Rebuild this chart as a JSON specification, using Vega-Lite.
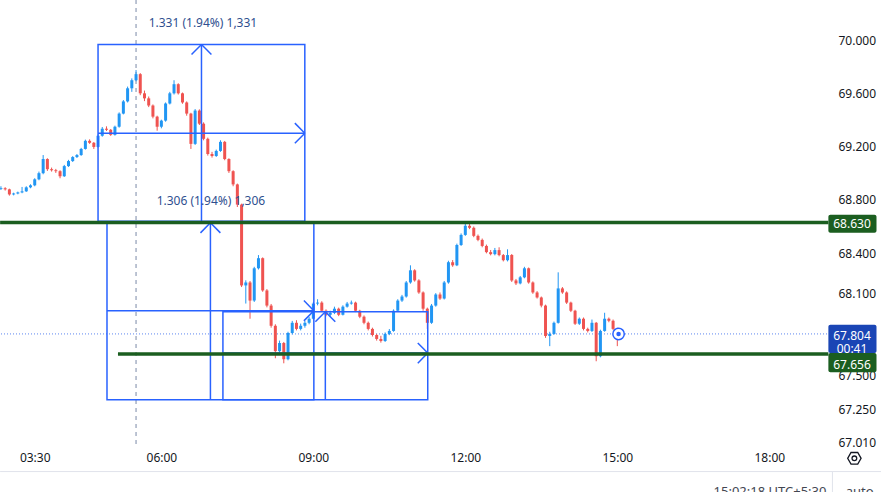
{
  "$schema": "https://vega.github.io/schema/vega-lite/v6.json",
  "width": 830,
  "height": 445,
  "padding": {"left": 0, "top": 0, "right": 51, "bottom": 47},
  "autosize": {"type": "none"},
  "background": "#ffffff",
  "config": {"font": "Noto Sans", "view": {"stroke": null}},
  "datasets": {
    "candles": [
      {"t":170,"o":68.880,"h":68.900,"l":68.872,"c":68.885},
      {"t":175,"o":68.885,"h":68.893,"l":68.868,"c":68.877},
      {"t":180,"o":68.877,"h":68.882,"l":68.830,"c":68.839},
      {"t":185,"o":68.839,"h":68.852,"l":68.832,"c":68.846},
      {"t":190,"o":68.846,"h":68.860,"l":68.840,"c":68.854},
      {"t":195,"o":68.854,"h":68.895,"l":68.848,"c":68.862},
      {"t":200,"o":68.862,"h":68.900,"l":68.858,"c":68.892},
      {"t":205,"o":68.892,"h":68.915,"l":68.885,"c":68.907},
      {"t":210,"o":68.907,"h":68.960,"l":68.900,"c":68.952},
      {"t":215,"o":68.952,"h":69.010,"l":68.945,"c":68.998},
      {"t":220,"o":68.998,"h":69.134,"l":68.990,"c":69.104},
      {"t":225,"o":69.104,"h":69.110,"l":69.015,"c":69.028},
      {"t":230,"o":69.028,"h":69.040,"l":69.010,"c":69.020},
      {"t":235,"o":69.020,"h":69.030,"l":69.000,"c":69.013},
      {"t":240,"o":69.013,"h":69.020,"l":68.960,"c":68.975},
      {"t":245,"o":68.975,"h":69.060,"l":68.970,"c":69.051},
      {"t":250,"o":69.051,"h":69.098,"l":69.045,"c":69.089},
      {"t":255,"o":69.089,"h":69.126,"l":69.082,"c":69.119},
      {"t":260,"o":69.119,"h":69.142,"l":69.112,"c":69.134},
      {"t":265,"o":69.134,"h":69.188,"l":69.128,"c":69.180},
      {"t":270,"o":69.180,"h":69.250,"l":69.175,"c":69.241},
      {"t":275,"o":69.241,"h":69.252,"l":69.218,"c":69.226},
      {"t":280,"o":69.226,"h":69.232,"l":69.180,"c":69.195},
      {"t":285,"o":69.195,"h":69.290,"l":69.190,"c":69.279},
      {"t":290,"o":69.279,"h":69.345,"l":69.272,"c":69.332},
      {"t":295,"o":69.332,"h":69.350,"l":69.315,"c":69.324},
      {"t":300,"o":69.324,"h":69.330,"l":69.278,"c":69.286},
      {"t":305,"o":69.286,"h":69.355,"l":69.280,"c":69.347},
      {"t":310,"o":69.347,"h":69.455,"l":69.340,"c":69.446},
      {"t":315,"o":69.446,"h":69.548,"l":69.440,"c":69.538},
      {"t":320,"o":69.538,"h":69.650,"l":69.530,"c":69.637},
      {"t":325,"o":69.637,"h":69.712,"l":69.610,"c":69.698},
      {"t":330,"o":69.698,"h":69.775,"l":69.690,"c":69.744},
      {"t":335,"o":69.744,"h":69.752,"l":69.585,"c":69.599},
      {"t":340,"o":69.599,"h":69.620,"l":69.540,"c":69.561},
      {"t":345,"o":69.561,"h":69.575,"l":69.495,"c":69.507},
      {"t":350,"o":69.507,"h":69.515,"l":69.410,"c":69.423},
      {"t":355,"o":69.423,"h":69.430,"l":69.317,"c":69.347},
      {"t":360,"o":69.347,"h":69.400,"l":69.335,"c":69.393},
      {"t":365,"o":69.393,"h":69.530,"l":69.385,"c":69.522},
      {"t":370,"o":69.522,"h":69.610,"l":69.515,"c":69.599},
      {"t":375,"o":69.599,"h":69.698,"l":69.590,"c":69.668},
      {"t":380,"o":69.668,"h":69.675,"l":69.590,"c":69.599},
      {"t":385,"o":69.599,"h":69.605,"l":69.520,"c":69.530},
      {"t":390,"o":69.530,"h":69.538,"l":69.430,"c":69.446},
      {"t":395,"o":69.446,"h":69.452,"l":69.180,"c":69.218},
      {"t":400,"o":69.218,"h":69.480,"l":69.210,"c":69.469},
      {"t":405,"o":69.469,"h":69.478,"l":69.360,"c":69.370},
      {"t":410,"o":69.370,"h":69.380,"l":69.245,"c":69.256},
      {"t":415,"o":69.256,"h":69.265,"l":69.130,"c":69.142},
      {"t":420,"o":69.142,"h":69.158,"l":69.115,"c":69.127},
      {"t":425,"o":69.127,"h":69.175,"l":69.120,"c":69.165},
      {"t":430,"o":69.165,"h":69.245,"l":69.158,"c":69.233},
      {"t":435,"o":69.233,"h":69.240,"l":69.095,"c":69.104},
      {"t":440,"o":69.104,"h":69.110,"l":69.000,"c":69.013},
      {"t":445,"o":69.013,"h":69.020,"l":68.900,"c":68.914},
      {"t":450,"o":68.914,"h":68.920,"l":68.745,"c":68.763},
      {"t":455,"o":68.763,"h":68.770,"l":68.150,"c":68.162},
      {"t":460,"o":68.162,"h":68.200,"l":68.028,"c":68.184},
      {"t":465,"o":68.184,"h":68.195,"l":67.916,"c":68.050},
      {"t":470,"o":68.050,"h":68.300,"l":68.040,"c":68.289},
      {"t":475,"o":68.289,"h":68.387,"l":68.280,"c":68.364},
      {"t":480,"o":68.364,"h":68.370,"l":68.115,"c":68.125},
      {"t":485,"o":68.125,"h":68.135,"l":68.000,"c":68.013},
      {"t":490,"o":68.013,"h":68.025,"l":67.850,"c":67.864},
      {"t":495,"o":67.864,"h":67.875,"l":67.625,"c":67.677},
      {"t":500,"o":67.677,"h":67.755,"l":67.665,"c":67.737},
      {"t":505,"o":67.737,"h":67.745,"l":67.588,"c":67.618},
      {"t":510,"o":67.618,"h":67.820,"l":67.610,"c":67.811},
      {"t":515,"o":67.811,"h":67.900,"l":67.800,"c":67.886},
      {"t":520,"o":67.886,"h":67.905,"l":67.830,"c":67.841},
      {"t":525,"o":67.841,"h":67.880,"l":67.830,"c":67.864},
      {"t":530,"o":67.864,"h":67.900,"l":67.850,"c":67.886},
      {"t":535,"o":67.886,"h":67.930,"l":67.875,"c":67.916},
      {"t":540,"o":67.916,"h":68.040,"l":67.910,"c":68.028},
      {"t":545,"o":68.028,"h":68.060,"l":68.015,"c":68.035},
      {"t":550,"o":68.035,"h":68.045,"l":67.965,"c":67.975},
      {"t":555,"o":67.975,"h":67.985,"l":67.935,"c":67.945},
      {"t":560,"o":67.945,"h":67.975,"l":67.930,"c":67.960},
      {"t":565,"o":67.960,"h":68.005,"l":67.950,"c":67.990},
      {"t":570,"o":67.990,"h":67.998,"l":67.935,"c":67.945},
      {"t":575,"o":67.945,"h":68.015,"l":67.940,"c":68.005},
      {"t":580,"o":68.005,"h":68.040,"l":67.998,"c":68.028},
      {"t":585,"o":68.028,"h":68.050,"l":68.020,"c":68.035},
      {"t":590,"o":68.035,"h":68.042,"l":67.965,"c":67.975},
      {"t":595,"o":67.975,"h":67.982,"l":67.920,"c":67.931},
      {"t":600,"o":67.931,"h":67.940,"l":67.875,"c":67.886},
      {"t":605,"o":67.886,"h":67.895,"l":67.830,"c":67.841},
      {"t":610,"o":67.841,"h":67.850,"l":67.785,"c":67.796},
      {"t":615,"o":67.796,"h":67.805,"l":67.755,"c":67.767},
      {"t":620,"o":67.767,"h":67.790,"l":67.740,"c":67.752},
      {"t":625,"o":67.752,"h":67.815,"l":67.745,"c":67.804},
      {"t":630,"o":67.804,"h":67.840,"l":67.795,"c":67.826},
      {"t":635,"o":67.826,"h":67.985,"l":67.820,"c":67.975},
      {"t":640,"o":67.975,"h":68.060,"l":67.968,"c":68.050},
      {"t":645,"o":68.050,"h":68.092,"l":68.040,"c":68.080},
      {"t":650,"o":68.080,"h":68.195,"l":68.072,"c":68.184},
      {"t":655,"o":68.184,"h":68.311,"l":68.175,"c":68.274},
      {"t":660,"o":68.274,"h":68.282,"l":68.190,"c":68.199},
      {"t":665,"o":68.199,"h":68.208,"l":68.100,"c":68.110},
      {"t":670,"o":68.110,"h":68.118,"l":67.975,"c":67.990},
      {"t":675,"o":67.990,"h":67.998,"l":67.841,"c":67.886},
      {"t":680,"o":67.886,"h":68.025,"l":67.878,"c":68.013},
      {"t":685,"o":68.013,"h":68.105,"l":68.005,"c":68.095},
      {"t":690,"o":68.095,"h":68.110,"l":68.055,"c":68.065},
      {"t":695,"o":68.065,"h":68.195,"l":68.058,"c":68.184},
      {"t":700,"o":68.184,"h":68.345,"l":68.175,"c":68.334},
      {"t":705,"o":68.334,"h":68.350,"l":68.300,"c":68.311},
      {"t":710,"o":68.311,"h":68.472,"l":68.305,"c":68.462},
      {"t":715,"o":68.462,"h":68.548,"l":68.455,"c":68.537},
      {"t":720,"o":68.537,"h":68.630,"l":68.530,"c":68.605},
      {"t":725,"o":68.605,"h":68.628,"l":68.580,"c":68.590},
      {"t":730,"o":68.590,"h":68.600,"l":68.520,"c":68.530},
      {"t":735,"o":68.530,"h":68.540,"l":68.490,"c":68.500},
      {"t":740,"o":68.500,"h":68.510,"l":68.445,"c":68.455},
      {"t":745,"o":68.455,"h":68.465,"l":68.400,"c":68.409},
      {"t":750,"o":68.409,"h":68.425,"l":68.385,"c":68.394},
      {"t":755,"o":68.394,"h":68.440,"l":68.385,"c":68.424},
      {"t":760,"o":68.424,"h":68.445,"l":68.378,"c":68.387},
      {"t":765,"o":68.387,"h":68.395,"l":68.340,"c":68.349},
      {"t":770,"o":68.349,"h":68.430,"l":68.340,"c":68.387},
      {"t":775,"o":68.387,"h":68.395,"l":68.188,"c":68.199},
      {"t":780,"o":68.199,"h":68.210,"l":68.165,"c":68.177},
      {"t":785,"o":68.177,"h":68.232,"l":68.170,"c":68.222},
      {"t":790,"o":68.222,"h":68.300,"l":68.215,"c":68.289},
      {"t":795,"o":68.289,"h":68.295,"l":68.175,"c":68.184},
      {"t":800,"o":68.184,"h":68.192,"l":68.100,"c":68.110},
      {"t":805,"o":68.110,"h":68.120,"l":68.065,"c":68.073},
      {"t":810,"o":68.073,"h":68.080,"l":68.000,"c":68.013},
      {"t":815,"o":68.013,"h":68.020,"l":67.775,"c":67.789},
      {"t":820,"o":67.789,"h":67.820,"l":67.714,"c":67.804},
      {"t":825,"o":67.804,"h":67.895,"l":67.798,"c":67.886},
      {"t":830,"o":67.886,"h":68.259,"l":67.880,"c":68.140},
      {"t":835,"o":68.140,"h":68.150,"l":68.100,"c":68.110},
      {"t":840,"o":68.110,"h":68.118,"l":68.025,"c":68.035},
      {"t":845,"o":68.035,"h":68.042,"l":67.965,"c":67.975},
      {"t":850,"o":67.975,"h":67.982,"l":67.870,"c":67.879},
      {"t":855,"o":67.879,"h":67.925,"l":67.870,"c":67.916},
      {"t":860,"o":67.916,"h":67.925,"l":67.830,"c":67.841},
      {"t":865,"o":67.841,"h":67.850,"l":67.815,"c":67.826},
      {"t":870,"o":67.826,"h":67.910,"l":67.818,"c":67.886},
      {"t":875,"o":67.886,"h":67.892,"l":67.603,"c":67.640},
      {"t":880,"o":67.640,"h":67.835,"l":67.632,"c":67.826},
      {"t":885,"o":67.826,"h":67.960,"l":67.820,"c":67.916},
      {"t":890,"o":67.916,"h":67.925,"l":67.890,"c":67.901},
      {"t":895,"o":67.901,"h":67.910,"l":67.832,"c":67.841},
      {"t":900,"o":67.841,"h":67.850,"l":67.714,"c":67.804}
    ],
    "boxes": [
      {"x1":285.0,"x2":529.9,"lo":68.638,"hi":69.969},
      {"x1":295.6,"x2":540.6,"lo":67.321,"hi":68.627},
      {"x1":432.9,"x2":675.5,"lo":67.321,"hi":67.968}
    ],
    "segs": [
      {"x1":407.5,"y1":68.638,"x2":407.5,"y2":69.969},
      {"x1":395.7,"y1":69.893,"x2":407.5,"y2":69.969},
      {"x1":419.3,"y1":69.893,"x2":407.5,"y2":69.969},
      {"x1":285.0,"y1":69.298,"x2":529.9,"y2":69.298},
      {"x1":518.1,"y1":69.374,"x2":529.9,"y2":69.298},
      {"x1":518.1,"y1":69.222,"x2":529.9,"y2":69.298},
      {"x1":418.1,"y1":67.321,"x2":418.1,"y2":68.627},
      {"x1":406.3,"y1":68.552,"x2":418.1,"y2":68.627},
      {"x1":429.9,"y1":68.552,"x2":418.1,"y2":68.627},
      {"x1":295.6,"y1":67.975,"x2":540.6,"y2":67.975},
      {"x1":528.8,"y1":68.050,"x2":540.6,"y2":67.975},
      {"x1":528.8,"y1":67.900,"x2":540.6,"y2":67.975},
      {"x1":554.2,"y1":67.321,"x2":554.2,"y2":67.968},
      {"x1":542.4,"y1":67.893,"x2":554.2,"y2":67.968},
      {"x1":566.0,"y1":67.893,"x2":554.2,"y2":67.968},
      {"x1":432.9,"y1":67.663,"x2":675.5,"y2":67.663},
      {"x1":663.7,"y1":67.737,"x2":675.5,"y2":67.663},
      {"x1":663.7,"y1":67.589,"x2":675.5,"y2":67.663}
    ],
    "levels": [
      {"x1":169,"x2":1150,"p":68.63},
      {"x1":308.6,"x2":1150,"p":67.656}
    ],
    "ranges": [
      {"x":409.2,"p":70.136,"label":"1.331 (1.94%) 1,331"},
      {"x":418.7,"p":68.793,"label":"1.306 (1.94%) 1,306"}
    ],
    "tags": [
      {"x1":1150,"x2":1207,"lo":68.553,"hi":68.688,"kind":"level"},
      {"x1":1150,"x2":1207,"lo":67.663,"hi":67.871,"kind":"last"},
      {"x1":1150,"x2":1207,"lo":67.522,"hi":67.663,"kind":"level"}
    ],
    "tagtext": [
      {"x":1178,"p":68.62,"label":"68.630"},
      {"x":1178,"p":67.792,"label":"67.804"},
      {"x":1178,"p":67.690,"label":"00:41"},
      {"x":1178,"p":67.575,"label":"67.656"}
    ]
  },
  "layer": [
    {
      "data": {"values": [{"t": 330}]},
      "mark": {"type": "rule", "color": "#7a8aa8", "strokeDash": [4, 4], "strokeWidth": 1},
      "encoding": {
        "x": {"field": "t", "type": "quantitative", "title": null, "scale": {"domain": [174.8, 1146.0], "nice": false, "zero": false}}
      }
    },
    {
      "data": {"values": [{"p": 67.804}]},
      "mark": {"type": "rule", "color": "#5c86f0", "strokeDash": [1, 2], "strokeWidth": 1},
      "encoding": {
        "y": {"field": "p", "type": "quantitative", "title": null, "scale": {"type": "log", "domain": [66.991, 70.308], "nice": false, "zero": false}}
      }
    },
    {
      "data": {"name": "candles"},
      "mark": {"type": "rule", "strokeWidth": 1},
      "encoding": {
        "x": {
          "field": "t", "type": "quantitative", "title": null,
          "scale": {"domain": [174.8, 1146.0], "nice": false, "zero": false},
          "axis": {
            "values": [210, 360, 540, 720, 900, 1080],
            "labelExpr": "utcFormat(datum.value * 60000, '%H:%M')",
            "grid": false, "ticks": false, "domain": false,
            "labelPadding": 7, "labelFontSize": 12, "labelColor": "#131722",
            "labelFlush": false, "labelOverlap": false
          }
        },
        "y": {
          "field": "l", "type": "quantitative", "title": null,
          "scale": {"type": "log", "domain": [66.991, 70.308], "nice": false, "zero": false},
          "axis": {
            "orient": "right",
            "values": [70, 69.6, 69.2, 68.8, 68.4, 68.1, 67.5, 67.25, 67.01],
            "format": ".3f",
            "grid": false, "ticks": false, "domain": false,
            "labelPadding": 8, "labelFontSize": 12, "labelColor": "#131722",
            "labelFlush": false, "labelOverlap": false
          }
        },
        "y2": {"field": "h"},
        "color": {"condition": {"test": "datum.c >= datum.o", "value": "#2196f3"}, "value": "#ef5350"}
      }
    },
    {
      "data": {"name": "candles"},
      "mark": {"type": "bar", "size": 3},
      "encoding": {
        "x": {"field": "t", "type": "quantitative", "title": null, "scale": {"domain": [174.8, 1146.0], "nice": false, "zero": false}},
        "y": {"field": "o", "type": "quantitative", "title": null, "scale": {"type": "log", "domain": [66.991, 70.308], "nice": false, "zero": false}},
        "y2": {"field": "c"},
        "color": {"condition": {"test": "datum.c >= datum.o", "value": "#2196f3"}, "value": "#ef5350"}
      }
    },
    {
      "data": {"name": "boxes"},
      "mark": {"type": "rect", "filled": false, "stroke": "#2962ff", "strokeWidth": 1.5},
      "encoding": {
        "x": {"field": "x1", "type": "quantitative", "title": null, "scale": {"domain": [174.8, 1146.0], "nice": false, "zero": false}},
        "x2": {"field": "x2"},
        "y": {"field": "lo", "type": "quantitative", "title": null, "scale": {"type": "log", "domain": [66.991, 70.308], "nice": false, "zero": false}},
        "y2": {"field": "hi"}
      }
    },
    {
      "data": {"name": "segs"},
      "mark": {"type": "rule", "color": "#2962ff", "strokeWidth": 1.5},
      "encoding": {
        "x": {"field": "x1", "type": "quantitative", "title": null, "scale": {"domain": [174.8, 1146.0], "nice": false, "zero": false}},
        "x2": {"field": "x2"},
        "y": {"field": "y1", "type": "quantitative", "title": null, "scale": {"type": "log", "domain": [66.991, 70.308], "nice": false, "zero": false}},
        "y2": {"field": "y2"}
      }
    },
    {
      "data": {"name": "levels"},
      "mark": {"type": "rule", "color": "#1b5e20", "strokeWidth": 3.5},
      "encoding": {
        "x": {"field": "x1", "type": "quantitative", "title": null, "scale": {"domain": [174.8, 1146.0], "nice": false, "zero": false}},
        "x2": {"field": "x2"},
        "y": {"field": "p", "type": "quantitative", "title": null, "scale": {"type": "log", "domain": [66.991, 70.308], "nice": false, "zero": false}}
      }
    },
    {
      "data": {"name": "ranges"},
      "mark": {"type": "text", "fontSize": 12, "color": "#2f4f8f", "align": "center", "baseline": "middle"},
      "encoding": {
        "x": {"field": "x", "type": "quantitative", "title": null, "scale": {"domain": [174.8, 1146.0], "nice": false, "zero": false}},
        "y": {"field": "p", "type": "quantitative", "title": null, "scale": {"type": "log", "domain": [66.991, 70.308], "nice": false, "zero": false}},
        "text": {"field": "label"}
      }
    },
    {
      "data": {"values": [{"t": 901.5, "p": 67.804}]},
      "mark": {"type": "point", "shape": "circle", "size": 130, "filled": true, "fill": "#ffffff", "stroke": "#2962ff", "strokeWidth": 1.5, "opacity": 1},
      "encoding": {
        "x": {"field": "t", "type": "quantitative", "title": null, "scale": {"domain": [174.8, 1146.0], "nice": false, "zero": false}},
        "y": {"field": "p", "type": "quantitative", "title": null, "scale": {"type": "log", "domain": [66.991, 70.308], "nice": false, "zero": false}}
      }
    },
    {
      "data": {"values": [{"t": 901.5, "p": 67.804}]},
      "mark": {"type": "point", "shape": "circle", "size": 20, "filled": true, "color": "#2962ff", "opacity": 1},
      "encoding": {
        "x": {"field": "t", "type": "quantitative", "title": null, "scale": {"domain": [174.8, 1146.0], "nice": false, "zero": false}},
        "y": {"field": "p", "type": "quantitative", "title": null, "scale": {"type": "log", "domain": [66.991, 70.308], "nice": false, "zero": false}}
      }
    },
    {
      "data": {"name": "tags"},
      "mark": {"type": "rect", "cornerRadius": 2},
      "encoding": {
        "x": {"field": "x1", "type": "quantitative", "title": null, "scale": {"domain": [174.8, 1146.0], "nice": false, "zero": false}},
        "x2": {"field": "x2"},
        "y": {"field": "lo", "type": "quantitative", "title": null, "scale": {"type": "log", "domain": [66.991, 70.308], "nice": false, "zero": false}},
        "y2": {"field": "hi"},
        "color": {"field": "kind", "type": "nominal", "scale": {"domain": ["level", "last"], "range": ["#1b5e20", "#1a45b5"]}, "legend": null}
      }
    },
    {
      "data": {"name": "tagtext"},
      "mark": {"type": "text", "fontSize": 12, "color": "#ffffff", "align": "center", "baseline": "middle"},
      "encoding": {
        "x": {"field": "x", "type": "quantitative", "title": null, "scale": {"domain": [174.8, 1146.0], "nice": false, "zero": false}},
        "y": {"field": "p", "type": "quantitative", "title": null, "scale": {"type": "log", "domain": [66.991, 70.308], "nice": false, "zero": false}},
        "text": {"field": "label"}
      }
    },
    {
      "data": {"values": [
        {"x1": 169, "x2": 1215, "y1": 66.798, "y2": 66.798},
        {"x1": 1154.8, "x2": 1154.8, "y1": 66.798, "y2": 66.60}
      ]},
      "mark": {"type": "rule", "color": "#e0e3eb", "strokeWidth": 1},
      "encoding": {
        "x": {"field": "x1", "type": "quantitative", "title": null, "scale": {"domain": [174.8, 1146.0], "nice": false, "zero": false}},
        "x2": {"field": "x2"},
        "y": {"field": "y1", "type": "quantitative", "title": null, "scale": {"type": "log", "domain": [66.991, 70.308], "nice": false, "zero": false}},
        "y2": {"field": "y2"}
      }
    },
    {
      "data": {"values": [{"x": 1147.7, "p": 66.652, "label": "15:02:18 UTC+5:30"}]},
      "mark": {"type": "text", "fontSize": 13, "color": "#434651", "baseline": "middle", "align": "right"},
      "encoding": {
        "x": {"field": "x", "type": "quantitative", "title": null, "scale": {"domain": [174.8, 1146.0], "nice": false, "zero": false}},
        "y": {"field": "p", "type": "quantitative", "title": null, "scale": {"type": "log", "domain": [66.991, 70.308], "nice": false, "zero": false}},
        "text": {"field": "label"}
      }
    },
    {
      "data": {"values": [{"x": 1170.5, "p": 66.652, "label": "auto"}]},
      "mark": {"type": "text", "fontSize": 13, "color": "#434651", "baseline": "middle", "align": "left"},
      "encoding": {
        "x": {"field": "x", "type": "quantitative", "title": null, "scale": {"domain": [174.8, 1146.0], "nice": false, "zero": false}},
        "y": {"field": "p", "type": "quantitative", "title": null, "scale": {"type": "log", "domain": [66.991, 70.308], "nice": false, "zero": false}},
        "text": {"field": "label"}
      }
    },
    {
      "data": {"values": [{"x": 1180.8, "p": 66.894}]},
      "mark": {"type": "point", "shape": "M-1,0L-0.5,-0.87L0.5,-0.87L1,0L0.5,0.87L-0.5,0.87Z", "size": 180, "filled": false, "stroke": "#131722", "strokeWidth": 1.3, "opacity": 1},
      "encoding": {
        "x": {"field": "x", "type": "quantitative", "title": null, "scale": {"domain": [174.8, 1146.0], "nice": false, "zero": false}},
        "y": {"field": "p", "type": "quantitative", "title": null, "scale": {"type": "log", "domain": [66.991, 70.308], "nice": false, "zero": false}}
      }
    },
    {
      "data": {"values": [{"x": 1180.8, "p": 66.894}]},
      "mark": {"type": "point", "shape": "circle", "size": 22, "filled": false, "stroke": "#131722", "strokeWidth": 1.3, "opacity": 1},
      "encoding": {
        "x": {"field": "x", "type": "quantitative", "title": null, "scale": {"domain": [174.8, 1146.0], "nice": false, "zero": false}},
        "y": {"field": "p", "type": "quantitative", "title": null, "scale": {"type": "log", "domain": [66.991, 70.308], "nice": false, "zero": false}}
      }
    }
  ]
}
